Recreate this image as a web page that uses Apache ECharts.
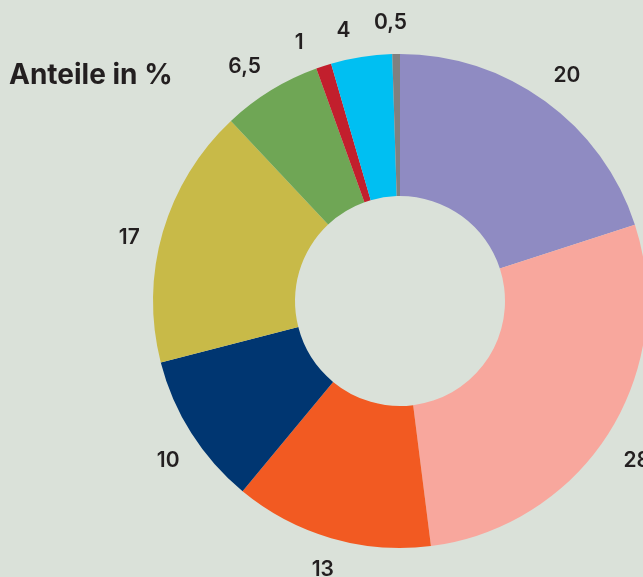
<!DOCTYPE html>
<html>
<head>
<meta charset="utf-8">
<script src="https://cdn.jsdelivr.net/npm/echarts@6/dist/echarts.min.js"></script>
<style>
  html, body { margin: 0; padding: 0; background: #dae1d9; }
  #chart { width: 643px; height: 577px; }
</style>
</head>
<body>
<div id="chart"></div>
<script>
// shares in percent, clockwise from 12 o'clock
const labels = ["20", "28", "13", "10", "17", "6,5", "1", "4", "0,5"];
const values = [20, 28, 13, 10, 17, 6.5, 1, 4, 0.5];
const colors = ["#8f8bc2", "#f8a79d", "#f25a22", "#003671", "#c8ba48", "#6fa655", "#c21f2d", "#00bff2", "#808080"];
// small nudges so labels sit where the original put them
const labelOffsets = [[0, 4], [-3, 8], [2, -4], [8, 8], [2, 16], [-7, 8], [-13, 12], [-12, 10], [-5, 6]];

const chart = echarts.init(document.getElementById("chart"), null, { renderer: "canvas" });

const center = [400, 301];
const font = "Inter, 'Noto Sans', sans-serif";

chart.setOption({
  animation: false,
  backgroundColor: "#dae1d9",
  title: {
    text: "Anteile in %",
    left: 4,
    top: 57,
    textStyle: { fontFamily: font, fontSize: 28, fontWeight: 700, color: "#231f20" }
  },
  series: [
    {
      type: "pie",
      center: center,
      radius: [105, 247],
      startAngle: 90,
      clockwise: true,
      silent: true,
      label: { show: false },
      labelLine: { show: false },
      data: values.map((v, i) => ({ value: v, name: labels[i], itemStyle: { color: colors[i] } }))
    },
    {
      // invisible ring used only to place the labels around the donut
      type: "pie",
      center: center,
      radius: [258, 304],
      startAngle: 90,
      clockwise: true,
      silent: true,
      itemStyle: { color: "rgba(0,0,0,0)" },
      label: {
        show: true,
        position: "inside",
        formatter: "{b}",
        fontFamily: font,
        fontSize: 21,
        fontWeight: 600,
        color: "#231f20"
      },
      labelLine: { show: false },
      data: values.map((v, i) => ({ value: v, name: labels[i], label: { offset: labelOffsets[i] } }))
    }
  ]
});

window.addEventListener("resize", () => chart.resize());
</script>
</body>
</html>
